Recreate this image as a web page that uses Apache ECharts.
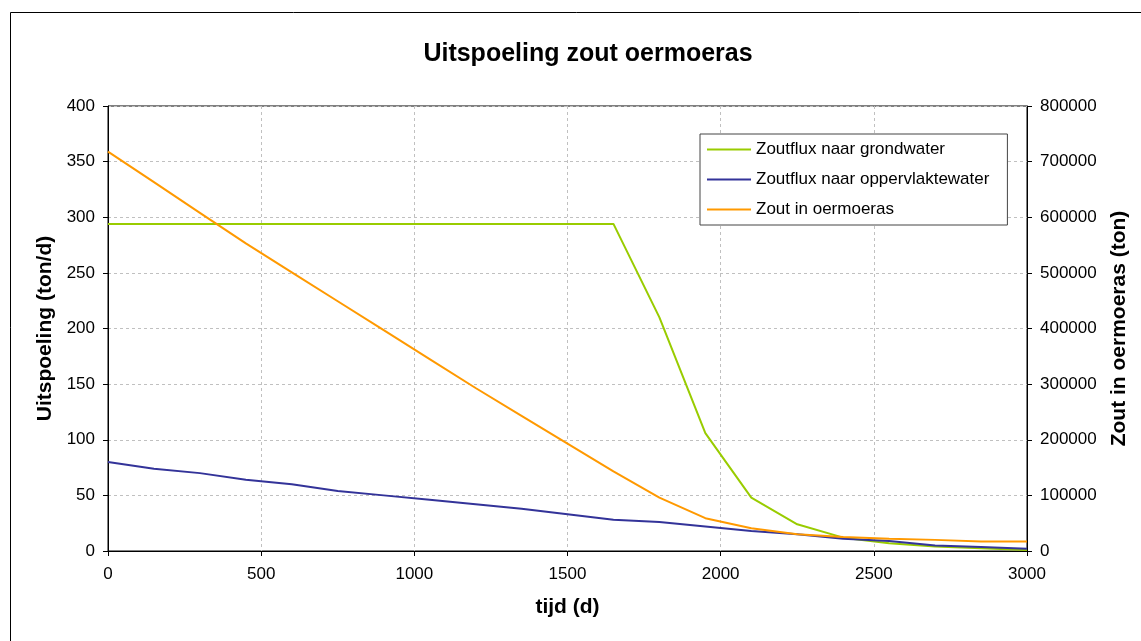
<!DOCTYPE html>
<html>
<head>
<meta charset="utf-8">
<script src="https://cdn.jsdelivr.net/npm/echarts@6/dist/echarts.min.js"></script>
<style>
html,body{margin:0;padding:0;background:#fff;}
#chart{width:1141px;height:641px;}
</style>
</head>
<body>
<div id="chart"></div>
<script>
var days = [0,150,300,450,600,750,900,1050,1200,1350,1500,1650,1800,1950,2100,2250,2400,2550,2700,2850,3000];
var fluxGrondwater = [294,294,294,294,294,294,294,294,294,294,294,294,210,106,48,24,12,7,4,2.5,1];
var fluxOppervlaktewater = [80,74,70,64,60,54,50,46,42,38,33,28,26,22,18,15,11,9,5,3.5,2];
var zoutOermoeras = [718000,663000,608000,553000,501000,449000,397000,345000,293000,243000,193000,143000,96000,59000,41000,30000,25000,22000,20000,17000,17000];
var seriesNames = ['Zoutflux naar grondwater','Zoutflux naar oppervlaktewater','Zout in oermoeras'];

function pairs(ys){ return days.map(function(d,i){ return [d, ys[i]]; }); }
function plain(v){ return String(v); }

var FF = 'Liberation Sans, Arial, sans-serif';
var chart = echarts.init(document.getElementById('chart'));
var axisFont = {fontFamily:FF, fontSize:17, color:'#000', formatter:plain};
var nameFont = {fontFamily:FF, fontSize:21, fontWeight:'bold', color:'#000'};
var split = {show:true, lineStyle:{color:'#c0c0c0', type:[3,3], width:1}};
chart.setOption({
  animation:false,
  backgroundColor:'#fff',
  title:{text:'Uitspoeling zout oermoeras', left:583, top:37, textAlign:'center',
    textStyle:{fontFamily:FF, fontSize:25, fontWeight:'bold', color:'#000'}},
  graphic:[{type:'rect', shape:{x:10.5,y:12.5,width:1200,height:700}, style:{fill:'none', stroke:'#000', lineWidth:1}, silent:true}],
  grid:{left:108, top:106, right:114, bottom:90, show:true, borderColor:'#000', borderWidth:1, backgroundColor:'transparent'},
  legend:{orient:'vertical', left:700, top:134,
    backgroundColor:'#fff', borderColor:'#444', borderWidth:1,
    padding:[7,18,7,7], itemGap:13, itemWidth:44, itemHeight:2, icon:'rect',
    textStyle:{fontFamily:FF, fontSize:17, color:'#000'},
    data:seriesNames},
  xAxis:{type:'value', min:0, max:3000, interval:500,
    name:'tijd (d)', nameLocation:'middle', nameGap:46, nameTextStyle:nameFont,
    axisLine:{show:true, onZero:false, lineStyle:{color:'#000', width:1}},
    axisTick:{show:true, length:5, lineStyle:{color:'#000'}},
    axisLabel:Object.assign({margin:15}, axisFont),
    splitLine:split},
  yAxis:[
    {type:'value', min:0, max:400, interval:50, position:'left',
      name:'Uitspoeling (ton/d)', nameLocation:'middle', nameGap:51, nameTextStyle:nameFont,
      axisLine:{show:true, lineStyle:{color:'#000', width:1}},
      axisTick:{show:true, length:5, lineStyle:{color:'#000'}},
      axisLabel:Object.assign({margin:13}, axisFont),
      splitLine:split},
    {type:'value', min:0, max:800000, interval:100000, position:'right',
      name:'Zout in oermoeras (ton)', nameLocation:'middle', nameGap:82, nameTextStyle:nameFont,
      axisLine:{show:true, lineStyle:{color:'#000', width:1}},
      axisTick:{show:true, length:5, lineStyle:{color:'#000'}},
      axisLabel:Object.assign({margin:13}, axisFont),
      splitLine:{show:false}}
  ],
  series:[
    {name:seriesNames[0], type:'line', yAxisIndex:0, data:pairs(fluxGrondwater), showSymbol:false, symbol:'none',
      lineStyle:{color:'#99CC00', width:2}, itemStyle:{color:'#99CC00'}},
    {name:seriesNames[1], type:'line', yAxisIndex:0, data:pairs(fluxOppervlaktewater), showSymbol:false, symbol:'none',
      lineStyle:{color:'#333399', width:2}, itemStyle:{color:'#333399'}},
    {name:seriesNames[2], type:'line', yAxisIndex:1, data:pairs(zoutOermoeras), showSymbol:false, symbol:'none',
      lineStyle:{color:'#FF9900', width:2}, itemStyle:{color:'#FF9900'}}
  ]
});
</script>
</body>
</html>
